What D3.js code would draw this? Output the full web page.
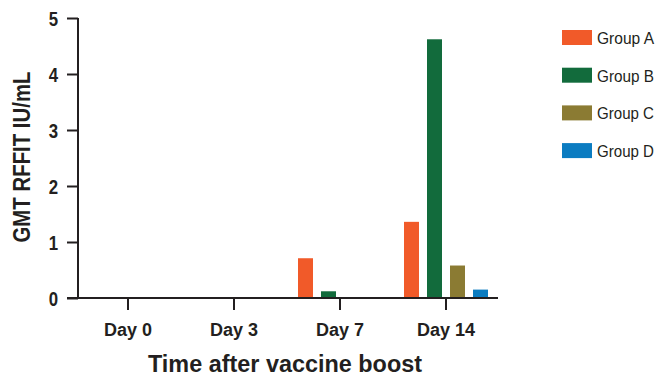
<!DOCTYPE html>
<html>
<head>
<meta charset="utf-8">
<script src="https://cdn.jsdelivr.net/npm/d3@7"></script>
<style>
  body { margin: 0; background: #fff; }
  text { font-family: "Liberation Sans", Arial, sans-serif; fill: #231f20; }
</style>
</head>
<body>
<svg id="chart"></svg>
<script>
'use strict';

const days = ['Day 0', 'Day 3', 'Day 7', 'Day 14'];
const groups = ['Group A', 'Group B', 'Group C', 'Group D'];
const groupA = [0, 0, 0.71, 1.36];
const groupB = [0, 0, 0.12, 4.62];
const groupC = [0, 0, 0, 0.58];
const groupD = [0, 0, 0, 0.15];
const yTicks = [0, 1, 2, 3, 4, 5];
const colors = ['#f15a29', '#126b3c', '#8b7b33', '#0b7cc1'];

(function () {
    const width = 668;
    const height = 384;
    const series = [groupA, groupB, groupC, groupD];

    const svg = d3.select('#chart')
        .attr('width', width)
        .attr('height', height);

    const x0 = d3.scaleBand()
        .domain(days)
        .range([75, 499]);

    const x1 = d3.scaleBand()
        .domain(groups)
        .range([-42, 42])
        .paddingInner(0.348);

    const y = d3.scaleLinear()
        .domain([0, 5])
        .range([298, 18]);

    const color = d3.scaleOrdinal()
        .domain(groups)
        .range(colors);

    // bars
    const dayG = svg.selectAll('.day')
        .data(days)
        .enter().append('g')
        .attr('transform', d => 'translate(' + (x0(d) + x0.bandwidth() / 2) + ',0)');

    dayG.selectAll('rect')
        .data((d, i) => groups.map((g, j) => ({ group: g, value: series[j][i] })))
        .enter().append('rect')
        .attr('x', d => x1(d.group))
        .attr('width', x1.bandwidth())
        .attr('y', d => y(d.value))
        .attr('height', d => y(0) - y(d.value))
        .attr('fill', d => color(d.group));

    // y axis
    const yAxis = svg.append('g')
        .attr('transform', 'translate(78,0)')
        .call(d3.axisLeft(y).tickValues(yTicks).tickFormat(d3.format('d'))
            .tickSize(11).tickPadding(9).tickSizeOuter(0));
    yAxis.select('.domain').attr('stroke', '#231f20').attr('stroke-width', 2).attr('d', 'M0,' + y(5) + 'V' + (y(0) + 1));
    yAxis.selectAll('.tick line').attr('stroke', '#231f20').attr('stroke-width', 2);
    yAxis.selectAll('.tick text')
        .attr('dy', '0.36em')
        .attr('transform', 'translate(-20,0) scale(0.8,1) translate(20,0)')
        .style('font-size', '21px')
        .style('font-weight', 'bold')
        .style('fill', '#231f20');

    // x axis
    const xAxis = svg.append('g')
        .attr('transform', 'translate(0,298)')
        .call(d3.axisBottom(x0).tickSize(12).tickPadding(13).tickSizeOuter(0));
    xAxis.select('.domain').attr('stroke', '#231f20').attr('stroke-width', 2).attr('d', 'M67,0H498');
    xAxis.selectAll('.tick line').attr('stroke', '#231f20').attr('stroke-width', 2);
    xAxis.selectAll('.tick text')
        .style('font-size', '18px')
        .style('font-weight', 'bold')
        .style('fill', '#231f20');

    // axis titles
    svg.append('text')
        .attr('x', 285)
        .attr('y', 372)
        .attr('text-anchor', 'middle')
        .attr('textLength', 274)
        .attr('lengthAdjust', 'spacingAndGlyphs')
        .style('font-size', '23px')
        .style('font-weight', 'bold')
        .text('Time after vaccine boost');

    svg.append('text')
        .attr('transform', 'translate(30,157) rotate(-90)')
        .attr('text-anchor', 'middle')
        .attr('textLength', 171)
        .attr('lengthAdjust', 'spacingAndGlyphs')
        .style('font-size', '24px')
        .style('font-weight', 'bold')
        .text('GMT RFFIT IU/mL');

    // legend
    const legend = svg.selectAll('.legend')
        .data(groups)
        .enter().append('g')
        .attr('transform', (d, i) => 'translate(562,' + (30 + i * 37.7) + ')');

    legend.append('rect')
        .attr('width', 30)
        .attr('height', 15)
        .attr('fill', d => color(d));

    legend.append('text')
        .attr('x', 35)
        .attr('y', 14)
        .attr('textLength', 57)
        .attr('lengthAdjust', 'spacingAndGlyphs')
        .style('font-size', '17px')
        .text(d => d);
})();
</script>
</body>
</html>
